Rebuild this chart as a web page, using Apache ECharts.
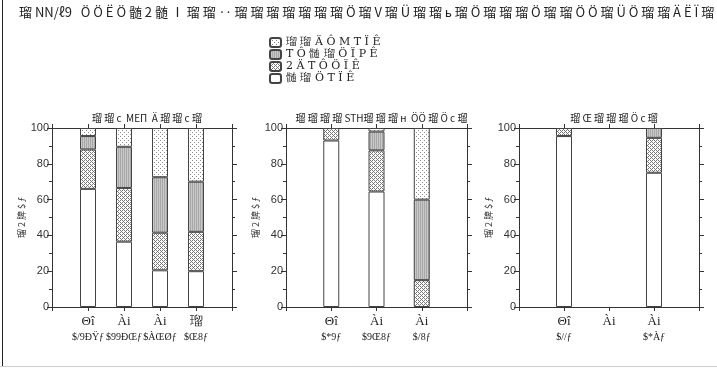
<!DOCTYPE html>
<html>
<head>
<meta charset="utf-8">
<script src="https://cdn.jsdelivr.net/npm/echarts@6/dist/echarts.min.js"></script>
<style>
  html, body { margin: 0; padding: 0; background: #fff; }
  #chart { width: 717px; height: 369px; }
</style>
</head>
<body>
<div id="chart"></div>
<script>
// 文字（原図の文字化けをそのまま近似）
const mainTitle = "瑠 NN/ℓ9   Ö Ö Ë Ö 髄 2 髄 Ⅰ 瑠 瑠 ‥ 瑠 瑠 瑠 瑠 瑠 瑠 瑠 Ö 瑠 V 瑠 Ü 瑠 瑠 ь 瑠 Ö 瑠 瑠 瑠 Ö 瑠 瑠 Ö Ö 瑠 Ü Ö 瑠 瑠 Ä Ë Ï 瑠";
const panelTitles = ["瑠 瑠 c  MEΠ  Ä 瑠 瑠 c 瑠", "瑠 瑠 瑠 瑠 STH瑠 瑠 瑠 н  ÖÖ 瑠 Ö c 瑠", "瑠 Œ 瑠 瑠 瑠 Ö c 瑠"];
const yName = "瑠 2 脾 $ ƒ";
const seriesNames = ["瑠 瑠 Ä Ô M T Ï Ê", "T Ô 髄 瑠 Ö Ï P Ê", "2 Ä T Ô Ö Ï Ê", "髄 瑠 Ö T Ï Ê"]; // 上から：点, 灰, 格子, 白

// カテゴリ（上段 / 下段）
const cats1 = ["Θî", "Ài", "Ài", "瑠"];
const subs1 = ["$/9ĐŸƒ", "$99ĐŒƒ", "$ÀŒØƒ", "$Œ8ƒ"];
const cats2 = ["Θî", "Ài", "Ài"];
const subs2 = ["$*9ƒ", "$9Œ8ƒ", "$/8ƒ"];
const cats3 = ["Θî", "Ài", "Ài"];
const subs3 = ["$//ƒ", "", "$*Àƒ"];

// 値（%） 下から：白, 格子, 灰, 点
const white1 = [66, 36.5, 20.5, 20];
const check1 = [22, 30, 21, 22];
const gray1 = [7.5, 23, 31, 28];
const dots1 = [4.5, 10.5, 27.5, 30];

const white2 = [93, 64.5, 0];
const check2 = [7, 23, 15];
const gray2 = [0, 10.5, 45];
const dots2 = [0, 2, 40];

const white3 = [95.5, 0, 75];
const check3 = [4.5, 0, 19.5];
const gray3 = [0, 0, 5.5];
const dots3 = [0, 0, 0];

function makePattern(w, h, bg, draw) {
  const c = document.createElement("canvas");
  c.width = w; c.height = h;
  const ctx = c.getContext("2d");
  ctx.fillStyle = bg;
  ctx.fillRect(0, 0, w, h);
  draw(ctx);
  return { image: c, repeat: "repeat" };
}
const dotPat = makePattern(4, 4, "#fff", ctx => {
  ctx.fillStyle = "#8a8a8a";
  ctx.fillRect(0, 0, 1, 1);
  ctx.fillRect(2, 2, 1, 1);
});
const grayPat = makePattern(2, 2, "#c8c8c8", ctx => {
  ctx.fillStyle = "#a8a8a8";
  ctx.fillRect(0, 0, 1, 2);
});
const checkPat = makePattern(4, 4, "#fff", ctx => {
  ctx.fillStyle = "#7a7a7a";
  for (let x = 0; x < 4; x++) for (let y = 0; y < 4; y++) {
    if ((x + y) % 4 === 0 || ((x - y) + 4) % 4 === 2) ctx.fillRect(x, y, 1, 1);
  }
});
const fills = ["#fff", checkPat, grayPat, dotPat];

const panels = [
  { left: 52, width: 180, cats: cats1, subs: subs1, data: [white1, check1, gray1, dots1] },
  { left: 286, width: 181, cats: cats2, subs: subs2, data: [white2, check2, gray2, dots2] },
  { left: 519, width: 180, cats: cats3, subs: subs3, data: [white3, check3, gray3, dots3] }
];
const TOP = 128, HEIGHT = 179;
const axisColor = "#333";
const axisLine = { show: true, onZero: false, lineStyle: { color: axisColor, width: 1 } };

const grid = [], xAxis = [], yAxis = [], series = [], title = [];
title.push({
  text: mainTitle, left: 14, top: 1,
  textStyle: { fontSize: 13, fontWeight: "normal", color: "#222", fontFamily: "Noto Sans CJK JP" }
});
panels.forEach((p, gi) => {
  grid.push({ left: p.left, top: TOP, width: p.width, height: HEIGHT });
  title.push({
    text: panelTitles[gi], left: p.left + p.width / 2, top: 108, textAlign: "center",
    textStyle: { fontSize: 10, fontWeight: "normal", color: "#222", fontFamily: "Noto Sans CJK JP" }
  });
  // 両端に空カテゴリを置き、目盛り位置に棒を立てる
  const labels = [""].concat(p.cats.map((c, i) => p.subs[i] ? "{a|" + c + "}\n{b|" + p.subs[i] + "}" : "{a|" + c + "}"), [""]);
  const tickCats = labels.map((_, i) => String(i));
  xAxis.push({
    type: "category", gridIndex: gi, data: tickCats, boundaryGap: false, position: "bottom",
    splitLine: { show: false },
    axisLine,
    axisTick: { length: 4, interval: 0, lineStyle: { color: axisColor } },
    axisLabel: {
      interval: 0, margin: 6, formatter: (v, i) => labels[i],
      rich: {
        a: { fontSize: 13, lineHeight: 17, color: "#222", fontFamily: "Liberation Serif" },
        b: { fontSize: 10, lineHeight: 14, color: "#222", fontFamily: "Liberation Serif" }
      }
    }
  });
  xAxis.push({
    type: "category", gridIndex: gi, data: tickCats, boundaryGap: false, position: "top",
    splitLine: { show: false },
    axisLine,
    axisTick: { length: 4, interval: 0, lineStyle: { color: axisColor } },
    axisLabel: { show: false }
  });
  yAxis.push({
    type: "value", gridIndex: gi, min: 0, max: 100, interval: 20, position: "left",
    name: yName, nameLocation: "middle", nameGap: 26, nameRotate: 90,
    nameTextStyle: { fontSize: 9, color: "#333", fontFamily: "Noto Sans CJK JP" },
    splitLine: { show: false },
    axisLine,
    axisTick: { show: true, length: 5, lineStyle: { color: axisColor } },
    minorTick: { show: true, splitNumber: 2, length: 3, lineStyle: { color: axisColor } },
    axisLabel: { color: "#333", fontSize: 11, margin: 3, fontFamily: "Liberation Sans" }
  });
  yAxis.push({
    type: "value", gridIndex: gi, min: 0, max: 100, interval: 20, position: "right",
    splitLine: { show: false },
    axisLine,
    axisTick: { show: true, length: 5, lineStyle: { color: axisColor } },
    minorTick: { show: true, splitNumber: 2, length: 3, lineStyle: { color: axisColor } },
    axisLabel: { show: false }
  });
  p.data.forEach((arr, si) => {
    series.push({
      type: "bar", name: seriesNames[3 - si], stack: "s" + gi,
      xAxisIndex: gi * 2, yAxisIndex: gi * 2, barWidth: 16,
      itemStyle: { color: fills[si], borderColor: "#444", borderWidth: 1 },
      data: ["-"].concat(arr.map(v => (v > 0 ? v : "-")), ["-"])
    });
  });
});

const chart = echarts.init(document.getElementById("chart"));
chart.setOption({
  animation: false,
  backgroundColor: "#fff",
  title,
  legend: {
    data: seriesNames, orient: "vertical", left: 264, top: 32,
    itemWidth: 11, itemHeight: 9, itemGap: 1,
    textStyle: { fontSize: 11, color: "#222", lineHeight: 10, fontFamily: "DejaVu Serif" },
    selectedMode: false
  },
  grid, xAxis, yAxis, series,
  graphic: [
    { type: "line", shape: { x1: 2.5, y1: 0, x2: 2.5, y2: 366 }, style: { stroke: "#222", lineWidth: 1 } },
    { type: "line", shape: { x1: 0, y1: 366.5, x2: 717, y2: 366.5 }, style: { stroke: "#ccc", lineWidth: 1 } }
  ]
});
</script>
</body>
</html>
